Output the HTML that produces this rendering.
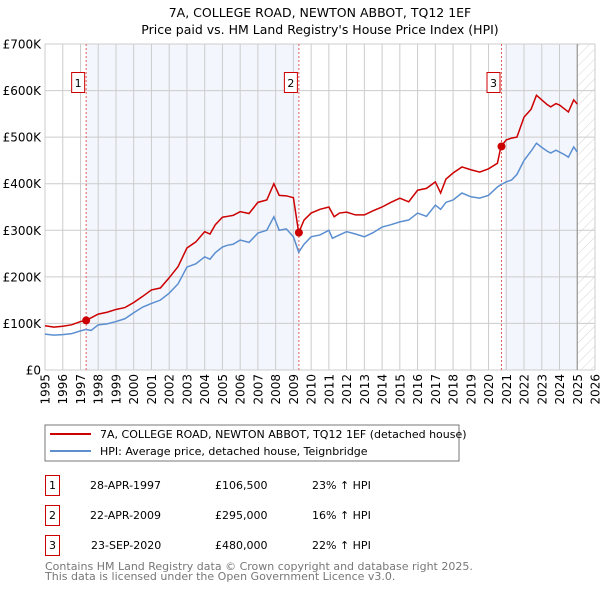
<!DOCTYPE html>
<html><head><meta charset="utf-8"><style>
body{margin:0;background:#fff;font-family:"DejaVu Sans","Liberation Sans",sans-serif;}
svg{display:block}
</style></head><body>
<svg id="c" width="600" height="590" xmlns="http://www.w3.org/2000/svg" font-family="DejaVu Sans, Liberation Sans, sans-serif">
<defs><pattern id="h" width="7" height="7" patternUnits="userSpaceOnUse" patternTransform="rotate(45)"><line x1="0" y1="0" x2="0" y2="7" stroke="#ccc" stroke-width="0.8"/></pattern></defs>
<text x="320" y="17" text-anchor="middle" font-size="12.5">7A, COLLEGE ROAD, NEWTON ABBOT, TQ12 1EF</text>
<text x="320" y="34" text-anchor="middle" font-size="12.5">Price paid vs. HM Land Registry's House Price Index (HPI)</text>
<g id="plot"></g>
<rect x="45" y="425" width="414" height="36" fill="#fff" stroke="#777"/>
<line x1="50" y1="434" x2="91" y2="434" stroke="#cc0000" stroke-width="2"/>
<text x="100" y="438" font-size="11">7A, COLLEGE ROAD, NEWTON ABBOT, TQ12 1EF (detached house)</text>
<line x1="50" y1="451" x2="91" y2="451" stroke="#5b8fd0" stroke-width="2"/>
<text x="100" y="455" font-size="11">HPI: Average price, detached house, Teignbridge</text>
<g font-size="11">
<rect x="45.5" y="475.5" width="14" height="20" fill="none" stroke="#c00"/><text x="52.5" y="489" text-anchor="middle">1</text>
<text x="90" y="489">28-APR-1997</text><text x="215" y="489">£106,500</text><text x="312" y="489">23% ↑ HPI</text>
<rect x="45.5" y="505.5" width="14" height="20" fill="none" stroke="#c00"/><text x="52.5" y="519" text-anchor="middle">2</text>
<text x="90" y="519">22-APR-2009</text><text x="215" y="519">£295,000</text><text x="312" y="519">16% ↑ HPI</text>
<rect x="45.5" y="535.5" width="14" height="20" fill="none" stroke="#c00"/><text x="52.5" y="549" text-anchor="middle">3</text>
<text x="91" y="549">23-SEP-2020</text><text x="215" y="549">£480,000</text><text x="312" y="549">22% ↑ HPI</text>
</g>
<text x="45" y="570" font-size="11" fill="#777">Contains HM Land Registry data © Crown copyright and database right 2025.</text>
<text x="45" y="580" font-size="11" fill="#777">This data is licensed under the Open Government Licence v3.0.</text>
</svg>
<script>
const hpiYears=[1995,1995.5,1996,1996.5,1997,1997.3,1997.6,1998,1998.5,1999,1999.5,2000,2000.5,2001,2001.5,2002,2002.5,2003,2003.5,2004,2004.3,2004.6,2005,2005.3,2005.6,2006,2006.5,2007,2007.5,2007.9,2008.2,2008.6,2009,2009.3,2009.6,2010,2010.5,2011,2011.2,2011.6,2012,2012.5,2013,2013.5,2014,2014.5,2015,2015.5,2016,2016.5,2017,2017.3,2017.6,2018,2018.5,2019,2019.5,2020,2020.5,2020.7,2021,2021.3,2021.6,2022,2022.4,2022.7,2023,2023.3,2023.5,2023.8,2024,2024.3,2024.5,2024.8,2025];
const hpiValues=[77,75,76,78,84,87,85,97,99,104,110,123,135,143,150,165,185,221,228,243,238,252,264,268,270,279,274,294,300,329,300,303,286,253,270,286,290,300,283,290,297,292,286,295,307,312,318,322,337,330,354,345,360,365,380,372,369,375,393,398,404,408,420,450,470,487,478,470,466,472,468,462,457,479,468];
const redYears=[1995,1995.5,1996,1996.5,1997,1997.3,1997.6,1998,1998.5,1999,1999.5,2000,2000.5,2001,2001.5,2002,2002.5,2003,2003.5,2004,2004.3,2004.6,2005,2005.3,2005.6,2006,2006.5,2007,2007.5,2007.9,2008.2,2008.6,2009,2009.3,2009.6,2010,2010.5,2011,2011.3,2011.6,2012,2012.5,2013,2013.5,2014,2014.5,2015,2015.5,2016,2016.5,2017,2017.3,2017.6,2018,2018.5,2019,2019.5,2020,2020.5,2020.7,2021,2021.3,2021.6,2022,2022.4,2022.7,2023,2023.3,2023.5,2023.8,2024,2024.3,2024.5,2024.8,2025];
const redValues=[95,92,94,97,104,106.5,112,120,124,130,134,145,158,172,176,198,222,262,275,297,292,312,328,330,332,340,336,360,365,400,375,374,370,295,322,337,345,350,329,337,339,333,333,342,350,360,369,361,386,390,404,380,410,423,436,430,425,432,444,480,494,498,500,543,560,590,580,570,565,572,569,560,554,580,571];
const saleYears=[1997.32,2009.31,2020.73];
const saleValues=[106.5,295,480];
const saleLabels=["1","2","3"];
const yTicks=[0,100,200,300,400,500,600,700];
const yTickLabels=["£0","£100K","£200K","£300K","£400K","£500K","£600K","£700K"];
const xTicks=[];for(let y=1995;y<=2026;y++)xTicks.push(y);
const L=45,R=595,T=44,B=370,x0=1995,x1=2026,ymax=700;
const X=v=>L+(v-x0)/(x1-x0)*(R-L);
const Y=v=>B-v/ymax*(B-T);
const NS="http://www.w3.org/2000/svg";
const g=document.getElementById('plot');
function el(t,a,p){const e=document.createElementNS(NS,t);for(const k in a)e.setAttribute(k,a[k]);(p||g).appendChild(e);return e;}
let e;
e=el('rect',{x:X(saleYears[0]),y:T,width:X(saleYears[1])-X(saleYears[0]),height:B-T,fill:'#f3f6fd'});


e=el('rect',{x:X(2020.9),y:T,width:X(2025)-X(2020.9),height:B-T,fill:'#f3f6fd'});


e=el('rect',{x:X(2025),y:T,width:R-X(2025),height:B-T,fill:'url(#h)'});


xTicks.forEach(v=>{e=el('line',{x1:X(v),x2:X(v),y1:T,y2:B,stroke:'#ccc','stroke-width':1});


e=el('text',{x:0,y:0,'font-size':12,'text-anchor':'end',transform:`translate(${X(v)+4.5},${B+4}) rotate(-90)`});e.textContent=v;

});
yTicks.forEach((v,i)=>{e=el('line',{x1:L,x2:R,y1:Y(v),y2:Y(v),stroke:'#ccc','stroke-width':1});


e=el('text',{x:L-4,y:Y(v)+4.5,'font-size':12,'text-anchor':'end'});e.textContent=yTickLabels[i];

});
e=el('line',{x1:X(2025),x2:X(2025),y1:T,y2:B,stroke:'#999','stroke-width':1.2});


saleYears.forEach((v,i)=>{e=el('line',{x1:X(v),x2:X(v),y1:T,y2:B,stroke:'#e06060','stroke-dasharray':'2,2','stroke-width':1});


e=el('rect',{x:X(v)-14.5,y:72.5,width:13,height:20,fill:'#fff',stroke:'#c00'});


e=el('text',{x:X(v)-8,y:87,'font-size':11,'text-anchor':'middle'});e.textContent=saleLabels[i];

});
e=el('polyline',{points:hpiYears.map((v,i)=>X(v)+','+Y(hpiValues[i])).join(' '),fill:'none',stroke:'#5b8fd0','stroke-width':1.5});


e=el('polyline',{points:redYears.map((v,i)=>X(v)+','+Y(redValues[i])).join(' '),fill:'none',stroke:'#cc0000','stroke-width':1.5});


saleYears.forEach((v,i)=>{e=el('circle',{cx:X(v),cy:Y(saleValues[i]),r:4,fill:'#cc0000'});

});
</script>
</body></html>
